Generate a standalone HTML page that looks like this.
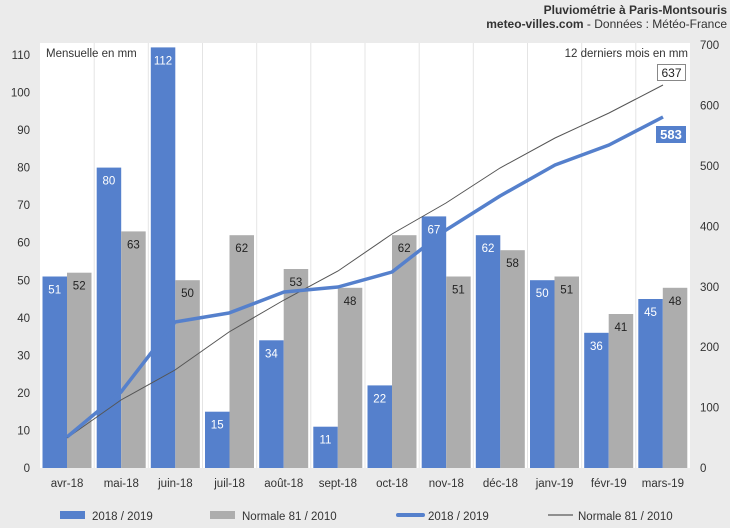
<!DOCTYPE html><html><head><meta charset="utf-8"><style>body{margin:0;background:#ebebeb}svg{display:block;font-family:"Liberation Sans",sans-serif}</style></head><body>
<svg width="730" height="528" xmlns="http://www.w3.org/2000/svg">
<rect width="730" height="528" fill="#ebebeb"/>
<text x="727" y="14" text-anchor="end" font-size="12" font-weight="bold" fill="#333">Pluviométrie à Paris-Montsouris</text>
<text x="727" y="28" text-anchor="end" font-size="12" fill="#333"><tspan font-weight="bold">meteo-villes.com</tspan> - Données : Météo-France</text>
<rect x="40" y="43" width="650" height="425" fill="#fff"/>
<g stroke="#e4e4e4" stroke-width="1">
<line x1="94.2" y1="43" x2="94.2" y2="468"/><line x1="148.3" y1="43" x2="148.3" y2="468"/><line x1="202.5" y1="43" x2="202.5" y2="468"/><line x1="256.7" y1="43" x2="256.7" y2="468"/><line x1="310.8" y1="43" x2="310.8" y2="468"/><line x1="365" y1="43" x2="365" y2="468"/><line x1="419.2" y1="43" x2="419.2" y2="468"/><line x1="473.3" y1="43" x2="473.3" y2="468"/><line x1="527.5" y1="43" x2="527.5" y2="468"/><line x1="581.7" y1="43" x2="581.7" y2="468"/><line x1="635.8" y1="43" x2="635.8" y2="468"/>
</g>
<g fill="#5580cc">
<rect x="42.5" y="276.5" width="24.5" height="191.5"/>
<rect x="96.7" y="167.6" width="24.5" height="300.4"/>
<rect x="150.8" y="47.4" width="24.5" height="420.6"/>
<rect x="205" y="411.7" width="24.5" height="56.3"/>
<rect x="259.2" y="340.3" width="24.5" height="127.7"/>
<rect x="313.3" y="426.7" width="24.5" height="41.3"/>
<rect x="367.5" y="385.4" width="24.5" height="82.6"/>
<rect x="421.7" y="216.4" width="24.5" height="251.6"/>
<rect x="475.8" y="235.2" width="24.5" height="232.8"/>
<rect x="530" y="280.2" width="24.5" height="187.8"/>
<rect x="584.2" y="332.8" width="24.5" height="135.2"/>
<rect x="638.3" y="299" width="24.5" height="169"/>
</g>
<g fill="#adadad">
<rect x="67" y="272.7" width="24.5" height="195.3"/>
<rect x="121.2" y="231.4" width="24.5" height="236.6"/>
<rect x="175.3" y="280.2" width="24.5" height="187.8"/>
<rect x="229.5" y="235.2" width="24.5" height="232.8"/>
<rect x="283.7" y="269" width="24.5" height="199"/>
<rect x="337.8" y="287.8" width="24.5" height="180.2"/>
<rect x="392" y="235.2" width="24.5" height="232.8"/>
<rect x="446.2" y="276.5" width="24.5" height="191.5"/>
<rect x="500.3" y="250.2" width="24.5" height="217.8"/>
<rect x="554.5" y="276.5" width="24.5" height="191.5"/>
<rect x="608.7" y="314" width="24.5" height="154"/>
<rect x="662.8" y="287.8" width="24.5" height="180.2"/>
</g>
<g font-size="11.5" fill="#fff" text-anchor="middle">
<text x="54.7" y="293.5">51</text><text x="108.9" y="184.6">80</text><text x="163" y="64.4">112</text><text x="217.2" y="428.7">15</text><text x="271.4" y="357.3">34</text><text x="325.5" y="443.7">11</text><text x="379.7" y="402.4">22</text><text x="433.9" y="233.4">67</text><text x="488" y="252.2">62</text><text x="542.2" y="297.2">50</text><text x="596.4" y="349.8">36</text><text x="650.5" y="316">45</text>
</g>
<g font-size="11.5" fill="#222" text-anchor="middle">
<text x="79.2" y="289.7">52</text><text x="133.4" y="248.4">63</text><text x="187.5" y="297.2">50</text><text x="241.7" y="252.2">62</text><text x="295.9" y="286">53</text><text x="350" y="304.8">48</text><text x="404.2" y="252.2">62</text><text x="458.4" y="293.5">51</text><text x="512.5" y="267.2">58</text><text x="566.7" y="293.5">51</text><text x="620.9" y="331">41</text><text x="675" y="304.8">48</text>
</g>
<text x="46" y="57" font-size="11.5" fill="#333">Mensuelle en mm</text>
<text x="688" y="57" text-anchor="end" font-size="11.5" fill="#333">12 derniers mois en mm</text>
<g font-size="11.5" fill="#333" text-anchor="end">
<text x="30" y="472">0</text><text x="30" y="434.5">10</text><text x="30" y="396.9">20</text><text x="30" y="359.4">30</text><text x="30" y="321.8">40</text><text x="30" y="284.3">50</text><text x="30" y="246.7">60</text><text x="30" y="209.2">70</text><text x="30" y="171.6">80</text><text x="30" y="134.1">90</text><text x="30" y="96.5">100</text><text x="30" y="59">110</text>
</g>
<g font-size="11.5" fill="#333">
<text x="700" y="472">0</text><text x="700" y="411.6">100</text><text x="700" y="351.2">200</text><text x="700" y="290.8">300</text><text x="700" y="230.4">400</text><text x="700" y="170">500</text><text x="700" y="109.6">600</text><text x="700" y="49.2">700</text>
</g>
<g font-size="11.5" fill="#333" text-anchor="middle">
<text x="67.1" y="487">avr-18</text><text x="121.3" y="487">mai-18</text><text x="175.4" y="487">juin-18</text><text x="229.6" y="487">juil-18</text><text x="283.8" y="487">août-18</text><text x="337.9" y="487">sept-18</text><text x="392.1" y="487">oct-18</text><text x="446.3" y="487">nov-18</text><text x="500.4" y="487">déc-18</text><text x="554.6" y="487">janv-19</text><text x="608.8" y="487">févr-19</text><text x="662.9" y="487">mars-19</text>
</g>
<polyline fill="none" stroke="#555" stroke-width="1" points="67,438 121,400 175,370 229,332 284,300 338,271 392,234 446,203 500,168 555,138 609,113 663,85"/>
<polyline fill="none" stroke="#5580cc" stroke-width="3.5" stroke-linejoin="round" points="67,437 121,392 175,322 229,313 284,292 338,287 392,272 446,230 500,196 555,165 609,145 663,117"/>
<rect x="657.5" y="64.5" width="28" height="16" fill="#fff" stroke="#888"/>
<text x="671.5" y="77" text-anchor="middle" font-size="12" fill="#222">637</text>
<rect x="656" y="126" width="30" height="17" fill="#5580cc"/>
<text x="671" y="139" text-anchor="middle" font-size="13" font-weight="bold" fill="#fff">583</text>
<rect x="60" y="511" width="25" height="8" fill="#5580cc"/><text x="92" y="520" font-size="11.5" fill="#333">2018 / 2019</text>
<rect x="210" y="511" width="25" height="8" fill="#adadad"/><text x="242" y="520" font-size="11.5" fill="#333">Normale 81 / 2010</text>
<line x1="398" y1="515" x2="423" y2="515" stroke="#5580cc" stroke-width="4" stroke-linecap="round"/><text x="428" y="520" font-size="11.5" fill="#333">2018 / 2019</text>
<line x1="548" y1="515" x2="573" y2="515" stroke="#333" stroke-width="1"/><text x="578" y="520" font-size="11.5" fill="#333">Normale 81 / 2010</text>
</svg></body></html>
